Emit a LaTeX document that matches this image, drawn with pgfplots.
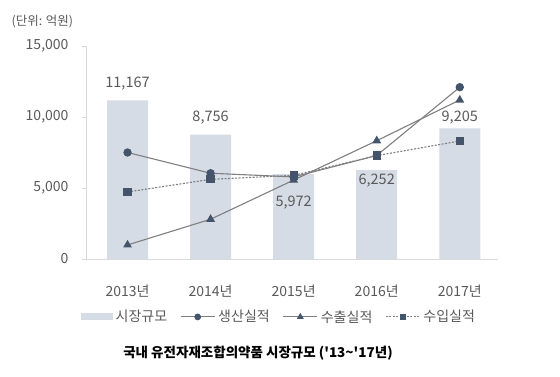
\documentclass[border=0pt]{standalone}
\usepackage{pgfplots}
\pgfplotsset{compat=1.18}
\usepackage{pgfplotstable}
\usepackage{fontspec}
\setmainfont{Noto Sans CJK KR}
\definecolor{barc}{HTML}{D6DCE5}
\definecolor{mk}{HTML}{44546A}
\definecolor{ln}{HTML}{7F7F7F}
\definecolor{txt}{HTML}{595959}
\definecolor{axc}{HTML}{D9D9D9}
\pgfplotstableread{
x market off
0 11167 17
1 8756 17
2 5972 -28
3 6252 -10
4 9205 11
}\market
\pgfplotstableread{
x prod
0 7500
1 6040
2 5780
3 7290
4 12100
}\prod
\pgfplotstableread{
x exp
0 990
1 2800
2 5560
3 8330
4 11200
}\exps
\pgfplotstableread{
x imp
0 4720
1 5610
2 5890
3 7280
4 8310
}\imps
\begin{document}
\begin{tikzpicture}[x=1pt,y=1pt]
\useasboundingbox (0,0) rectangle (560,376);
\node[anchor=west, text=txt, font=\fontsize{12.5}{14}\selectfont] at (8,354) {(단위: 억원)};
\node[anchor=center, text=black, font=\fontsize{13.5}{15}\selectfont\bfseries] at (258,23) {국내 유전자재조합의약품 시장규모 (\textquotesingle 13\textasciitilde\textquotesingle 17년)};
\begin{axis}[
  at={(86pt,117pt)}, anchor=south west,
  scale only axis, width=412pt, height=213pt,
  xmin=-0.5, xmax=4.46, ymin=0, ymax=15000,
  axis x line*=bottom, axis y line*=left,
  axis line style={axc, -},
  xtick={0,1,2,3,4},
  xticklabels={2013년,2014년,2015년,2016년,2017년},
  xtick style={draw=none},
  ytick={0,5000,10000,15000},
  ytick style={axc},
  tick align=outside, major tick length=4pt,
  /pgf/number format/.cd, 1000 sep={,}, assume math mode=true, /pgfplots/.cd,
  scaled y ticks=false,
  ticklabel style={text=txt, font=\fontsize{14}{16}\selectfont},
  yticklabel style={xshift=-10pt},
  xticklabel style={yshift=-18pt},
  legend columns=4,
  legend style={draw=none, fill=none, at={(0.468,-0.272)}, anchor=center,
    font=\fontsize{14}{16}\selectfont, text=txt,
    /tikz/every even column/.append style={column sep=11pt},
    /tikz/every odd column/.append style={column sep=1pt}},
  legend cell align=left,
]
\addplot[ybar, bar width=41pt, fill=barc, draw=none,
  point meta=explicit,
  nodes near coords,
  visualization depends on={\thisrow{off}\as\myoff},
  every node near coord/.append style={anchor=center, yshift=\myoff pt, text=txt, font=\fontsize{14.5}{16}\selectfont},
  legend image code/.code={\fill[barc] (0pt,-3.5pt) rectangle (32pt,3.5pt);}
] table[x=x,y=market,meta=market]{\market};
\addlegendentry{시장규모}
\addplot[ln, line width=1.1pt, mark=*, mark size=3.6pt, mark options={solid, fill=mk, draw=mk},
  legend image code/.code={\draw[mark repeat=2,mark phase=2,mark size=2.8pt] plot coordinates {(0pt,0pt) (17pt,0pt) (34pt,0pt)};}
] table[x=x,y=prod]{\prod};
\addlegendentry{생산실적}
\addplot[ln, line width=1.1pt, mark=triangle*, mark size=4pt, mark options={solid, fill=mk, draw=mk},
  legend image code/.code={\draw[mark repeat=2,mark phase=2,mark size=3pt] plot coordinates {(0pt,0pt) (17pt,0pt) (34pt,0pt)};}
] table[x=x,y=exp]{\exps};
\addlegendentry{수출실적}
\addplot[ln, line width=1.1pt, dash pattern=on 2pt off 1.5pt, mark=square*, mark size=3.6pt, mark options={solid, fill=mk, draw=mk},
  legend image code/.code={\draw[mark repeat=2,mark phase=2,mark size=2.8pt] plot coordinates {(0pt,0pt) (17pt,0pt) (34pt,0pt)};}
] table[x=x,y=imp]{\imps};
\addlegendentry{수입실적}
\end{axis}
\end{tikzpicture}
\end{document}
